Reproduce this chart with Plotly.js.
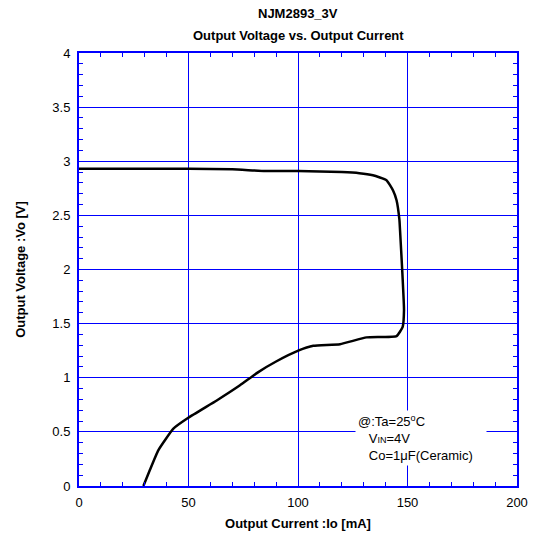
<!DOCTYPE html>
<html>
<head>
<meta charset="utf-8">
<script src="https://cdn.plot.ly/plotly-3.0.1.min.js"></script>
<style>html,body{margin:0;padding:0;background:#fff;}#chart{width:541px;height:543px;}</style>
</head>
<body>
<div id="chart"></div>
<script>
// Output current [mA] and output voltage [V]
const currentMA = [0, 25, 50, 70, 85, 100, 120, 128, 134.2, 140.4, 143.4, 145, 146.3, 146.6, 147.6, 148.4, 147.8, 145, 131.3, 119.2, 107, 100.1, 90, 81.7, 73.5, 62.9, 49.9, 43.1, 36.2, 32.4, 29.4];
const voltageV  = [2.93, 2.93, 2.93, 2.925, 2.91, 2.91, 2.90, 2.89, 2.87, 2.825, 2.73, 2.64, 2.46, 2.36, 1.99, 1.625, 1.47, 1.385, 1.373, 1.31, 1.295, 1.25, 1.15, 1.05, 0.93, 0.79, 0.63, 0.53, 0.33, 0.15, 0];
const xTicks = [0, 50, 100, 150, 200];
const yTicks = [0, 0.5, 1, 1.5, 2, 2.5, 3, 3.5, 4];
const titleLines = ['NJM2893_3V', 'Output Voltage vs. Output Current'];

const blue = '#0000ff';
const font = 'Liberation Sans, Arial, sans-serif';

const trace = {
  x: currentMA, y: voltageV, mode: 'lines', type: 'scatter',
  line: {color: '#000', width: 2.5, shape: 'spline', smoothing: 0.4},
  hoverinfo: 'none'
};

const axisCommon = {
  showline: true, linecolor: blue, linewidth: 2, mirror: 'ticks',
  ticks: 'inside', ticklen: 5, tickcolor: blue, tickwidth: 1,
  showgrid: true, gridcolor: blue, gridwidth: 1,
  zeroline: false, tickfont: {family: font, size: 13, color: '#000'},
  fixedrange: true
};

const layout = {
  width: 541, height: 543,
  margin: {l: 79, r: 24, t: 53, b: 57},
  paper_bgcolor: '#fff', plot_bgcolor: '#fff',
  showlegend: false,
  xaxis: Object.assign({}, axisCommon, {
    range: [0, 200], tickvals: xTicks, ticktext: xTicks.map(String),
    ticklabelstandoff: 3,
    minor: {dtick: 10, ticks: 'inside', ticklen: 4, tickcolor: blue, showgrid: false},
    title: {text: '<b>Output Current :Io [mA]</b>', font: {family: font, size: 13, color: '#000'}, standoff: 10}
  }),
  yaxis: Object.assign({}, axisCommon, {
    range: [0, 4], tickvals: yTicks, ticktext: yTicks.map(String),
    ticklabelstandoff: 4,
    minor: {dtick: 0.1, ticks: 'inside', ticklen: 4, tickcolor: blue, showgrid: false},
    title: {text: '<b>Output Voltage :Vo [V]</b>', font: {family: font, size: 13, color: '#000'}, standoff: 24}
  }),
  annotations: [
    {x: 0.5, y: 1, xref: 'paper', yref: 'paper', yshift: 40, xanchor: 'center', yanchor: 'middle',
     showarrow: false, text: '<b>' + titleLines[0] + '</b>', font: {family: font, size: 13, color: '#000'}},
    {x: 0.5, y: 1, xref: 'paper', yref: 'paper', yshift: 18, xanchor: 'center', yanchor: 'middle',
     showarrow: false, text: '<b>' + titleLines[1] + '</b>', font: {family: font, size: 13, color: '#000'}},
    {x: 126, y: 0.44, xref: 'x', yref: 'y', xanchor: 'left', yanchor: 'middle',
     showarrow: false, align: 'left', bgcolor: '#fff', borderpad: 2,
     font: {family: font, size: 13, color: '#000'},
     text: '@:Ta=25<sup>o</sup>C<br>   V<span style="font-size:9px">IN</span>=4V<br>   Co=1μF(Ceramic)   '}
  ]
};

Plotly.newPlot('chart', [trace], layout, {staticPlot: true, displayModeBar: false});
</script>
</body>
</html>
